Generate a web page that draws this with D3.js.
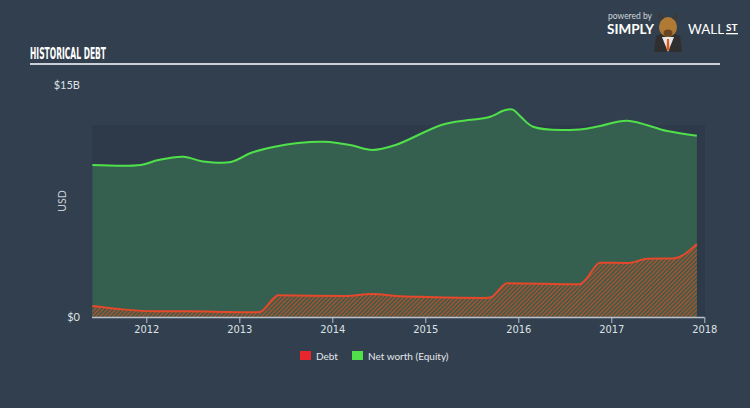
<!DOCTYPE html>
<html><head><meta charset="utf-8">
<script src="https://cdn.jsdelivr.net/npm/d3@7"></script>
<style>
html,body{margin:0;padding:0;background:#323f4e;}
svg{display:block;}
</style></head>
<body>
<svg id="chart" width="750" height="408"></svg>
<script>
// ---- data ----
const equityDates = [2011.42, 2011.94, 2012.13, 2012.40, 2012.61, 2012.91, 2013.13, 2013.38, 2013.63, 2013.92, 2014.19, 2014.43, 2014.68, 2015.18, 2015.46, 2015.68, 2015.86, 2015.94, 2016.03, 2016.16, 2016.66, 2016.88, 2017.17, 2017.60, 2017.92];
const equityValues = [9.83, 9.83, 10.15, 10.36, 10.06, 10.02, 10.62, 11.01, 11.25, 11.33, 11.12, 10.80, 11.12, 12.43, 12.73, 12.91, 13.38, 13.41, 12.93, 12.30, 12.13, 12.35, 12.69, 12.02, 11.72];
const debtDates = [2011.42, 2011.73, 2012.09, 2012.45, 2012.90, 2013.13, 2013.22, 2013.42, 2014.14, 2014.43, 2014.68, 2015.03, 2015.64, 2015.70, 2015.88, 2016.66, 2016.72, 2016.88, 2017.18, 2017.39, 2017.67, 2017.92];
const debtValues = [0.71, 0.50, 0.37, 0.37, 0.32, 0.30, 0.32, 1.40, 1.36, 1.49, 1.36, 1.29, 1.23, 1.26, 2.18, 2.11, 2.39, 3.51, 3.49, 3.77, 3.79, 4.72];
const xTickYears = [2012, 2013, 2014, 2015, 2016, 2017, 2018];
const yTickValues = [0, 15];
const yTickLabels = ["$0", "$15B"];
const legendLabels = ["Debt", "Net worth (Equity)"];

const equity = equityDates.map((d, i) => ({x: d, y: equityValues[i]}));
const debt = debtDates.map((d, i) => ({x: d, y: debtValues[i]}));

const svg = d3.select("#chart");
const W = 750, H = 408;
const plotTop = 85, plotBottom = 317;

const x = d3.scaleLinear().domain([2012 - (146.3 - 92) / 93, 2018]).range([92, 704.3]);
const y = d3.scaleLinear().domain([0, 15]).range([plotBottom, plotTop]);

svg.append("rect").attr("width", W).attr("height", H).attr("fill", "#323f4e");

// title
svg.append("text").attr("x", 30).attr("y", 59)
  .attr("font-family", "'DejaVu Sans Condensed', 'DejaVu Sans', sans-serif")
  .attr("font-weight", "bold").attr("font-size", 16.5).attr("fill", "#ffffff")
  .attr("textLength", 76).attr("lengthAdjust", "spacingAndGlyphs")
  .text("HISTORICAL DEBT");
svg.append("rect").attr("x", 30).attr("y", 63).attr("width", 690).attr("height", 2).attr("fill", "#c9d0d8");

// logo
const logo = svg.append("g");
logo.append("text").attr("x", 608).attr("y", 19).attr("font-family", "Lato, sans-serif")
  .attr("font-size", 9).attr("fill", "#d0d5da").attr("textLength", 44).attr("lengthAdjust", "spacingAndGlyphs").text("powered by");
logo.append("text").attr("x", 607).attr("y", 34).attr("font-family", "Lato, sans-serif")
  .attr("font-weight", "bold").attr("font-size", 14).attr("fill", "#ffffff")
  .attr("textLength", 47).attr("lengthAdjust", "spacingAndGlyphs").text("SIMPLY");
logo.append("text").attr("x", 688).attr("y", 34).attr("font-family", "Lato, sans-serif")
  .attr("font-size", 14).attr("fill", "#ffffff")
  .attr("textLength", 36).attr("lengthAdjust", "spacingAndGlyphs").text("WALL");
logo.append("text").attr("x", 726).attr("y", 31).attr("font-family", "Lato, sans-serif")
  .attr("font-weight", "bold").attr("font-size", 10).attr("fill", "#ffffff").text("ST");
logo.append("rect").attr("x", 726).attr("y", 33).attr("width", 12).attr("height", 1.3).attr("fill", "#ffffff");
// mascot (simplified)
logo.append("path").attr("d", "M656,36 Q668,30 680,36 L682,52 L654,52 Z").attr("fill", "#2f2f2f");
logo.append("path").attr("d", "M662,37 L668,52 L674,37 Z").attr("fill", "#e8e8e8");
logo.append("path").attr("d", "M667,39 L669,39 L669.5,50 L666.5,50 Z").attr("fill", "#e05a1e");
logo.append("ellipse").attr("cx", 668).attr("cy", 27).attr("rx", 9).attr("ry", 10).attr("fill", "#b07a35");
logo.append("ellipse").attr("cx", 668).attr("cy", 33).attr("rx", 4.5).attr("ry", 3.5).attr("fill", "#6b4520");
logo.append("path").attr("d", "M660,21 L657,11 L664,18 Z M676,21 L679,11 L672,18 Z").attr("fill", "#3a3a3a");

// plot background
svg.append("rect").attr("x", 92).attr("y", 125).attr("width", 705 - 92).attr("height", plotBottom - 125)
  .attr("fill", "#2e3a4a");

// pattern for debt
const defs = svg.append("defs");
const pat = defs.append("pattern").attr("id", "hatch").attr("patternUnits", "userSpaceOnUse")
  .attr("width", 3).attr("height", 3).attr("patternTransform", "rotate(45)");
pat.append("rect").attr("width", 3).attr("height", 3).attr("fill", "#3d5a48");
pat.append("rect").attr("width", 1.2).attr("height", 3).attr("fill", "#b8532f");

const eqCurve = d3.curveCatmullRom.alpha(0.5);
const debtCurve = d3.curveMonotoneX;
const eqArea = d3.area().x(d => x(d.x)).y0(y(0)).y1(d => y(d.y)).curve(eqCurve);
const eqLine = d3.line().x(d => x(d.x)).y(d => y(d.y)).curve(eqCurve);
const dArea = d3.area().x(d => x(d.x)).y0(y(0)).y1(d => y(d.y)).curve(debtCurve);
const dLine = d3.line().x(d => x(d.x)).y(d => y(d.y)).curve(debtCurve);

svg.append("path").datum(equity).attr("d", eqArea).attr("fill", "#356050");
svg.append("path").datum(debt).attr("d", dArea).attr("fill", "url(#hatch)");
svg.append("path").datum(debt).attr("d", dLine).attr("fill", "none")
  .attr("stroke", "#e5482a").attr("stroke-width", 2);
svg.append("path").datum(equity).attr("d", eqLine).attr("fill", "none")
  .attr("stroke", "#4fe04a").attr("stroke-width", 2);

// x axis
const xAxis = d3.axisBottom(x).tickValues(xTickYears).tickFormat(d3.format("d")).tickSize(6).tickSizeOuter(0);
const gx = svg.append("g").attr("transform", `translate(0,${plotBottom})`).call(xAxis);
gx.select(".domain").attr("stroke", "#b8c2cc").attr("stroke-width", 1.5).attr("d", `M92,0.5H${x(2018)}`);
gx.selectAll(".tick line").attr("stroke", "#b8c2cc").attr("stroke-width", 1);
gx.selectAll(".tick text").attr("fill", "#dde2e6").attr("font-size", 11)
  .attr("font-family", "'DejaVu Sans Condensed', 'Liberation Sans', sans-serif").attr("dy", "0.95em")
  .attr("y", 6);

// y labels
const gy = svg.append("g");
gy.selectAll("text").data(yTickValues).enter().append("text")
  .attr("x", 80).attr("y", d => y(d)).attr("dy", "0.35em").attr("text-anchor", "end")
  .attr("font-family", "Lato, sans-serif").attr("font-size", 11).attr("fill", "#dde2e6")
  .text((d, i) => yTickLabels[i]);
svg.append("text").attr("transform", "translate(66,201) rotate(-90)").attr("text-anchor", "middle")
  .attr("font-family", "Lato, sans-serif").attr("font-size", 10.5).attr("fill", "#c8ced4").text("USD");

// legend
const legColors = ["#e8262b", "#4fe04a"];
const legX = [300, 352];
const lg = svg.append("g");
legendLabels.forEach((t, i) => {
  lg.append("rect").attr("x", legX[i]).attr("y", 351).attr("width", 11).attr("height", 9).attr("fill", legColors[i]);
  lg.append("text").attr("x", legX[i] + 16).attr("y", 359.5).attr("font-family", "Lato, sans-serif")
    .attr("font-size", 10).attr("fill", "#e4e8ec").text(t);
});
</script>
</body></html>
